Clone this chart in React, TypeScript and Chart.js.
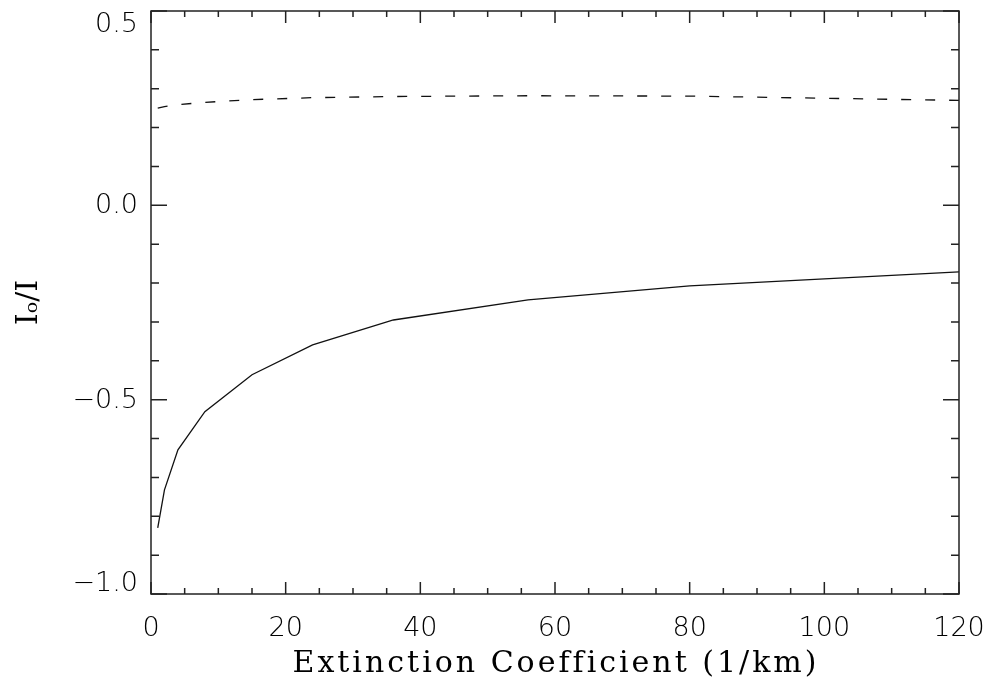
import React, { useEffect, useRef } from "react";
import { Chart, registerables } from "chart.js";

Chart.register(...registerables);

// Extinction coefficient (1/km)
const xValues = [1, 2, 4, 8, 15, 24, 36, 56, 80, 120];
// solid curve
const solidValues = [-0.83, -0.732, -0.629, -0.531, -0.436, -0.359, -0.295, -0.243, -0.207, -0.171];
// dashed curve
const dashedValues = [0.25, 0.254, 0.259, 0.265, 0.272, 0.277, 0.28, 0.282, 0.281, 0.27];

const xTickLabels = ["0", "20", "40", "60", "80", "100", "120"];
const yTickValues = [-1.0, -0.5, 0.0, 0.5];
const yTickLabels = ["\u22121.0", "\u22120.5", "0.0", "0.5"];
const xTitle = "Extinction Coefficient (1/km)";
const yTitle = "I\u2092/I";

const X_MIN = 0;
const X_MAX = 120;
const X_MAJOR = 20;
const X_MINOR = 5;
const Y_MIN = -1.0;
const Y_MAX = 0.5;
const Y_MAJOR = 0.5;
const Y_MINOR = 0.1;

const AXIS_COLOR = "#222";
const TEXT_COLOR = "#000";
const TICK_FONT = "200 27px 'DejaVu Sans'";
const XTITLE_FONT = "30px 'DejaVu Serif'";

const boxPlugin = {
  id: "idlBox",
  afterDraw(chart: any) {
    const { ctx, chartArea } = chart;
    const { left, right, top, bottom } = chartArea;
    const xs = chart.scales.x;
    const ys = chart.scales.y;
    ctx.save();
    ctx.strokeStyle = AXIS_COLOR;
    ctx.lineWidth = 1.5;
    ctx.strokeRect(left, top, right - left, bottom - top);
    ctx.beginPath();
    const nx = Math.round((X_MAX - X_MIN) / X_MINOR);
    for (let i = 0; i <= nx; i++) {
      const v = X_MIN + i * X_MINOR;
      const px = xs.getPixelForValue(v);
      const major = Math.abs(v / X_MAJOR - Math.round(v / X_MAJOR)) < 1e-6;
      const len = major ? 12 : 6;
      ctx.moveTo(px, bottom);
      ctx.lineTo(px, bottom - len);
      ctx.moveTo(px, top);
      ctx.lineTo(px, top + len);
    }
    const ny = Math.round((Y_MAX - Y_MIN) / Y_MINOR);
    for (let i = 0; i <= ny; i++) {
      const v = Y_MIN + i * Y_MINOR;
      const py = ys.getPixelForValue(v);
      const major = Math.abs(v / Y_MAJOR - Math.round(v / Y_MAJOR)) < 1e-6;
      const len = major ? 16 : 8;
      ctx.moveTo(left, py);
      ctx.lineTo(left + len, py);
      ctx.moveTo(right, py);
      ctx.lineTo(right - len, py);
    }
    ctx.stroke();

    // y tick labels, kept inside the axis extent
    ctx.fillStyle = TEXT_COLOR;
    ctx.font = TICK_FONT;
    ctx.textAlign = "right";
    ctx.textBaseline = "middle";
    yTickValues.forEach((v, i) => {
      let py = ys.getPixelForValue(v);
      py = Math.min(Math.max(py, top + 13), bottom - 11);
      ctx.fillText(yTickLabels[i], left - 13, py + 1);
    });

    // x axis title (wide letter spacing)
    ctx.font = XTITLE_FONT;
    (ctx as any).letterSpacing = "3px";
    ctx.textAlign = "center";
    ctx.textBaseline = "middle";
    ctx.fillText(xTitle, (left + right) / 2 + 1, xs.bottom - 24);
    (ctx as any).letterSpacing = "0px";
    ctx.restore();
  },
};

export default function App() {
  const canvasRef = useRef<HTMLCanvasElement | null>(null);

  useEffect(() => {
    document.body.style.margin = "0";
    const canvas = canvasRef.current;
    if (!canvas) return;
    const chart = new Chart(canvas, {
      type: "line",
      data: {
        datasets: [
          {
            label: "solid",
            data: xValues.map((x, i) => ({ x, y: solidValues[i] })),
            borderColor: "#111",
            borderWidth: 1.3,
            pointRadius: 0,
            fill: false,
            tension: 0,
          },
          {
            label: "dashed",
            data: xValues.map((x, i) => ({ x, y: dashedValues[i] })),
            borderColor: "#111",
            borderWidth: 1.3,
            borderDash: [10, 14],
            pointRadius: 0,
            fill: false,
            tension: 0,
          },
        ],
      },
      options: {
        animation: false,
        responsive: true,
        maintainAspectRatio: false,
        layout: { padding: { top: 11, right: 31, left: 0, bottom: 0 } },
        plugins: {
          legend: { display: false },
          tooltip: { enabled: false },
        },
        scales: {
          x: {
            type: "linear",
            min: X_MIN,
            max: X_MAX,
            border: { display: false },
            grid: { display: false, drawTicks: false },
            ticks: {
              stepSize: X_MAJOR,
              autoSkip: false,
              maxRotation: 0,
              padding: 19,
              color: TEXT_COLOR,
              font: { family: "'DejaVu Sans'", size: 27, weight: "200" as any },
              callback: (v: any) => {
                const idx = Math.round((Number(v) - X_MIN) / X_MAJOR);
                return xTickLabels[idx] ?? "";
              },
            },
            title: { display: false },
            afterFit: (s: any) => {
              s.height = 94;
              s.paddingLeft = 0;
              s.paddingRight = 0;
            },
          },
          y: {
            type: "linear",
            min: Y_MIN,
            max: Y_MAX,
            border: { display: false },
            grid: { display: false, drawTicks: false },
            ticks: { display: false, stepSize: Y_MAJOR },
            title: {
              display: true,
              text: yTitle,
              color: TEXT_COLOR,
              font: { family: "'DejaVu Serif'", size: 30, weight: "normal" as any, lineHeight: 1.2 },
              padding: { top: 11, bottom: 0 },
            },
            afterFit: (s: any) => {
              s.width = 151;
              s.paddingTop = 0;
              s.paddingBottom = 0;
            },
          },
        },
      },
      plugins: [boxPlugin],
    });
    return () => chart.destroy();
  }, []);

  return (
    <div style={{ width: 990, height: 688, position: "relative", background: "#fff" }}>
      <canvas ref={canvasRef} />
    </div>
  );
}
